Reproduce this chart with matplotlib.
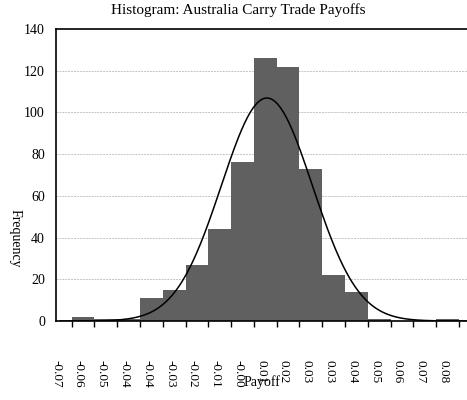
import numpy as np
import matplotlib
matplotlib.use("Agg")
import matplotlib.pyplot as plt

# histogram counts per bin (17 bins)
counts = [2, 1, 1, 11, 15, 27, 44, 76, 126, 122, 73, 22, 14, 1, 0, 0, 1]
edge_labels = ["-0.07", "-0.06", "-0.05", "-0.04", "-0.04", "-0.03", "-0.02",
               "-0.01", "-0.00", "0.01", "0.02", "0.03", "0.03", "0.04",
               "0.05", "0.06", "0.07", "0.08"]
# fitted normal curve, in bin units
fit_mean = 8.57
fit_sd = 2.0

plt.rcParams['font.family'] = ['Liberation Serif', 'DejaVu Serif']

fig = plt.figure(figsize=(4.67, 4.0), dpi=100)
ax = fig.add_axes([0.12, 0.1975, 0.88, 0.73])

n = len(counts)
idx = np.arange(n)
ax.bar(idx, counts, width=1.0, align='edge', color='#606060', edgecolor='none', zorder=2)

xs = np.linspace(-0.5, n + 0.3, 400)
total = sum(counts)
ys = total / (fit_sd * np.sqrt(2 * np.pi)) * np.exp(-0.5 * ((xs - fit_mean) / fit_sd) ** 2)
ax.plot(xs, ys, color='black', lw=1.1, zorder=3)

ax.set_xlim(-0.52, 17.35)
ax.set_ylim(0, 140)
ax.set_yticks(range(0, 141, 20))
ax.tick_params(axis='y', length=0, labelsize=10, pad=8)
for v in range(20, 140, 20):
    ax.axhline(v, color='#c4c4c4', lw=0.7, ls=(0, (2, 1)), zorder=1)

edges = np.arange(n + 1)
ax.set_xticks(edges - 0.68)
ax.set_xticklabels(edge_labels, rotation=270, fontsize=9.5)
ax.tick_params(axis='x', which='major', length=0, pad=28)
ax.set_xticks(edges, minor=True)
ax.tick_params(axis='x', which='minor', length=4, width=1, direction='out')

for s in ['left', 'bottom', 'top']:
    ax.spines[s].set_linewidth(1.2)
ax.spines['right'].set_visible(False)

fig.text(0.51, 0.975, "Histogram: Australia Carry Trade Payoffs", ha='center', va='center', fontsize=11)
fig.text(0.561, 0.045, "Payoff", ha='center', va='center', fontsize=10)
fig.text(0.032, 0.405, "Frequency", ha='center', va='center', fontsize=10, rotation=270)

fig.savefig("out.png", dpi=100)
